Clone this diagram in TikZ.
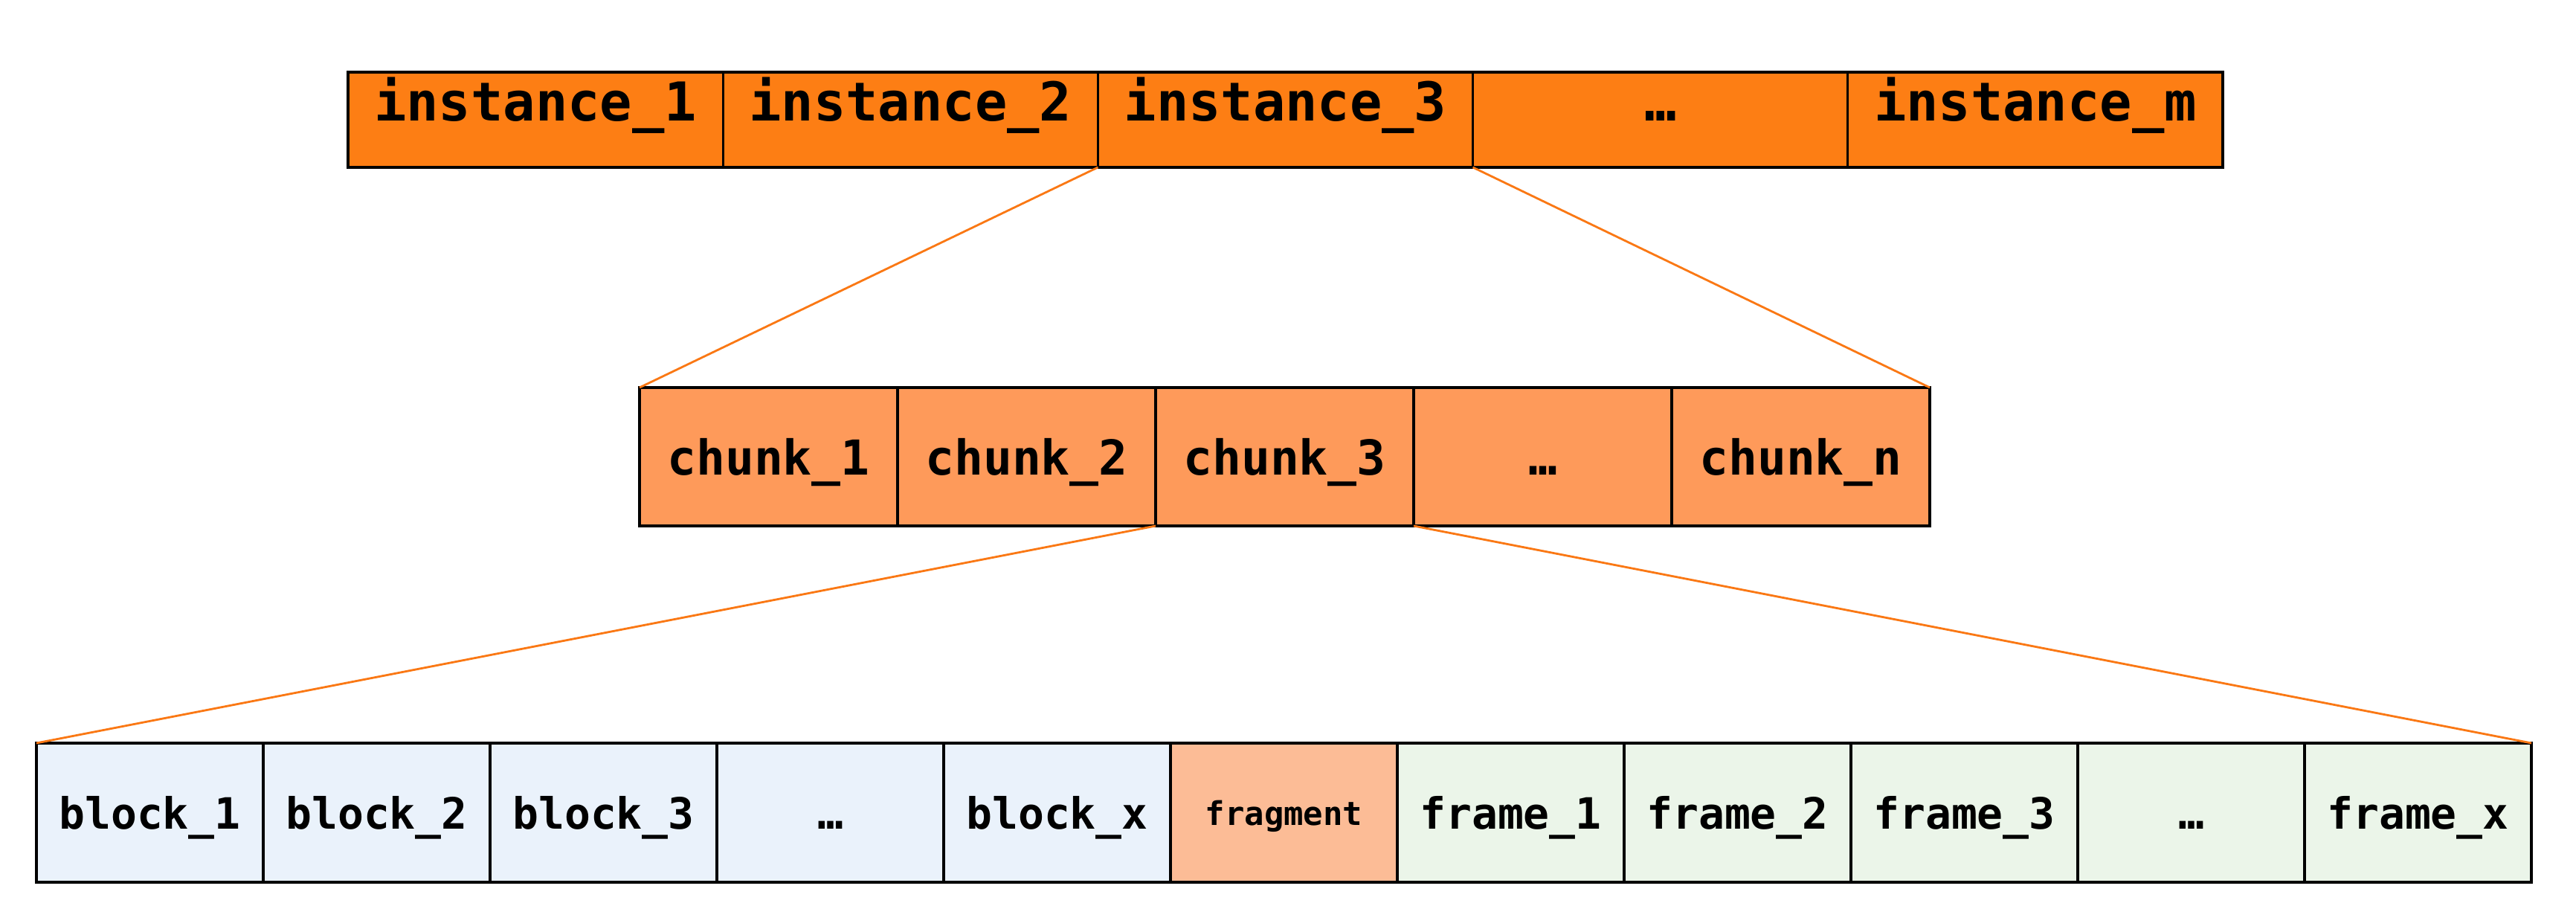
\documentclass[tikz,border=0pt]{standalone}
\usepackage{fontspec}
\usepackage{tikz}
\newfontfamily\cellfont{DejaVu Sans Mono}
\definecolor{instfill}{RGB}{253,126,20}
\definecolor{chunkfill}{RGB}{254,154,90}
\definecolor{fragfill}{RGB}{252,188,150}
\definecolor{blockfill}{RGB}{234,242,251}
\definecolor{framefill}{RGB}{235,245,233}
\definecolor{zoomorange}{RGB}{250,120,20}
\tikzset{cell/.style={draw=black, line width=0.9pt, rectangle, inner sep=0pt, outer sep=0pt,
    anchor=north west, font=\cellfont\bfseries},
    zoomline/.style={draw=zoomorange, line width=0.8pt}}

\begin{document}
\begin{tikzpicture}
                    \useasboundingbox (0,0) rectangle (34.64,12.22);
                    %Top row: instances
                    \foreach \lbl [count=\i] in {instance\_1, instance\_2, instance\_3, …, instance\_m}
                        \node[cell, fill=instfill, minimum width=5.042cm, minimum height=1.28cm,
                            text height=0.3cm, text depth=0.26cm,
                            font=\cellfont\bfseries\fontsize{20.5}{24}\selectfont]
                            (i\i) at ({4.68+(\i-1)*5.042}, 11.25) {\lbl};
                    %Middle row: chunks of instance_3
                    \foreach \lbl [count=\i] in {chunk\_1, chunk\_2, chunk\_3, …, chunk\_n}
                        \node[cell, fill=chunkfill, minimum width=3.47cm, minimum height=1.86cm,
                            text height=0.5cm, text depth=0cm,
                            font=\cellfont\bfseries\fontsize{18.4}{22}\selectfont]
                            (c\i) at ({8.60+(\i-1)*3.47}, 7.01) {\lbl};
                    %Bottom row: blocks, fragment, frames of chunk_3
                    \foreach \lbl/\col/\fs/\th [count=\i] in {block\_1/blockfill/16.5/0.44, block\_2/blockfill/16.5/0.44,
                            block\_3/blockfill/16.5/0.44, …/blockfill/16.5/0.44, block\_x/blockfill/16.5/0.44,
                            fragment/fragfill/12.5/0.34,
                            frame\_1/framefill/16.5/0.44, frame\_2/framefill/16.5/0.44, frame\_3/framefill/16.5/0.44,
                            …/framefill/16.5/0.44, frame\_x/framefill/16.5/0.44}
                        \node[cell, fill=\col, minimum width=3.05cm, minimum height=1.87cm,
                            text height=\th cm, text depth=0cm,
                            font=\cellfont\bfseries\fontsize{\fs}{\fs}\selectfont]
                            (b\i) at ({0.49+(\i-1)*3.05}, 2.23) {\lbl};
                    %Zoom lines
                    \draw[zoomline] (i3.south west) -- (c1.north west);
                    \draw[zoomline] (i3.south east) -- (c5.north east);
                    \draw[zoomline] (c3.south west) -- (b1.north west);
                    \draw[zoomline] (c3.south east) -- (b11.north east);
                \end{tikzpicture}
\end{document}
